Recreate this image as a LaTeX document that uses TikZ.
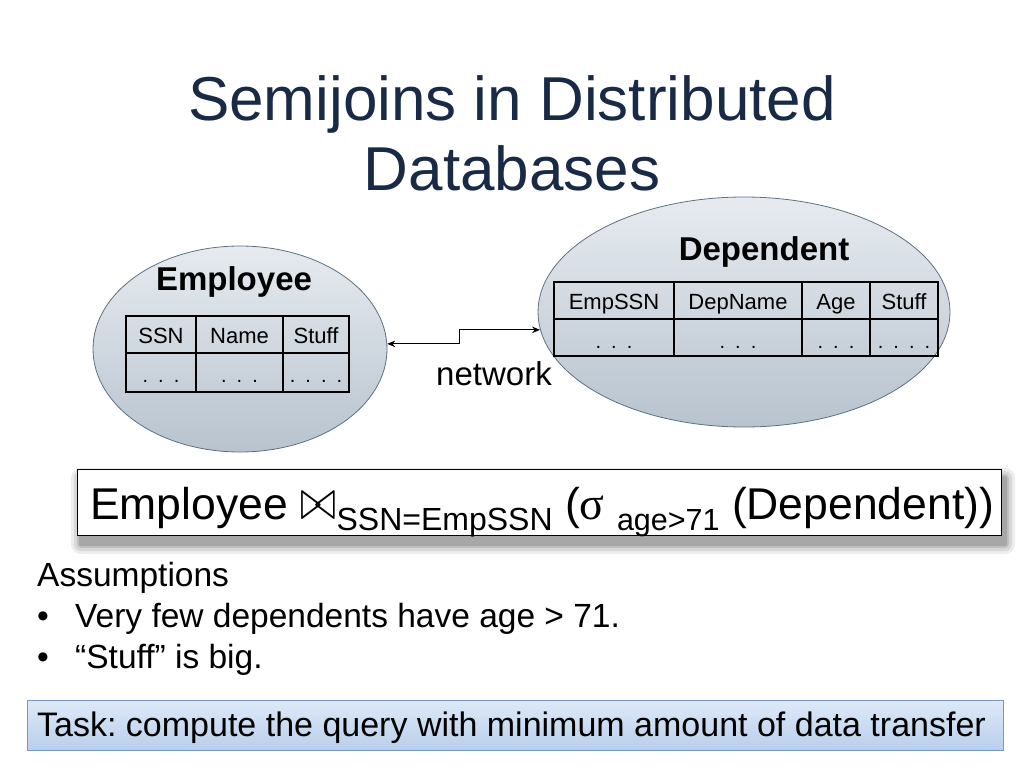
\documentclass[tikz,border=0pt]{standalone}
\usepackage{fix-cm}
\usepackage{fontspec}
\setmainfont{Liberation Sans}
\newfontfamily\grfont{Liberation Serif}
\usetikzlibrary{shapes.geometric,arrows.meta}
\definecolor{titlec}{RGB}{24,42,70}
\definecolor{elltop}{RGB}{230,235,240}
\definecolor{ellbot}{RGB}{184,195,206}
\definecolor{elldraw}{RGB}{95,112,128}
\definecolor{tasktop}{RGB}{222,233,247}
\definecolor{taskbot}{RGB}{184,207,236}
\definecolor{taskdraw}{RGB}{120,152,196}
\newcommand{\fsz}[1]{\fontsize{#1}{#1}\selectfont}
\frenchspacing
\begin{document}
\begin{tikzpicture}[x=1pt,y=-1pt,
  txt/.style={inner sep=0pt, anchor=base},
  cell/.style={inner sep=0pt, anchor=base, font=\fsz{22}},
  dots/.style={inner sep=0pt, anchor=base, font=\fsz{20}},
  db/.style={ellipse, draw=elldraw, line width=0.8pt, top color=elltop, bottom color=ellbot},
  outer/.style={line width=2.6pt},
  inner/.style={line width=1.3pt},
  link/.style={line width=1.2pt, {Stealth[length=8pt,width=6.5pt]}-{Stealth[length=8pt,width=6.5pt]}}
]
\useasboundingbox (0,0) rectangle (1024,768);

% title
\node[txt, font=\fsz{62}, text=titlec] (t1) at (512,120) {Semijoins in Distributed};
\node[txt, font=\fsz{62}, text=titlec] (t2) at (512,190) {Databases};

% ellipses
\node[db, minimum width=294pt, minimum height=206pt] (emp) at (240,349) {};
\node[db, minimum width=412pt, minimum height=230pt] (dep) at (744,312) {};

\node[txt, font=\bfseries\fsz{33}] (empl) at (234,290) {Employee};
\node[txt, font=\bfseries\fsz{33}] (depl) at (764,260) {Dependent};

% Employee table
\draw[inner] (126,353) -- (349,353);
\draw[inner] (196,316) -- (196,392);
\draw[inner] (283,316) -- (283,392);
\draw[outer] (126,316) rectangle (349,392);
\node[cell] (e1) at (161,343) {SSN};
\node[cell] (e2) at (239.5,343) {Name};
\node[cell] (e3) at (316,343) {Stuff};
\node[dots] (e4) at (161,382) {.\,\,\,.\,\,\,.};
\node[dots] (e5) at (239.5,382) {.\,\,\,.\,\,\,.};
\node[dots] (e6) at (316,382) {.\,\,\,.\,\,\,.\,\,\,.};

% Dependent table
\draw[inner] (554,319) -- (938,319);
\draw[inner] (674,282) -- (674,356);
\draw[inner] (802,282) -- (802,356);
\draw[inner] (870,282) -- (870,356);
\draw[outer] (554,282) rectangle (938,356);
\node[cell] (d1) at (614,309) {EmpSSN};
\node[cell] (d2) at (738,309) {DepName};
\node[cell] (d3) at (836,309) {Age};
\node[cell] (d4) at (904,309) {Stuff};
\node[dots] (d5) at (614,348) {.\,\,\,.\,\,\,.};
\node[dots] (d6) at (738,348) {.\,\,\,.\,\,\,.};
\node[dots] (d7) at (836,348) {.\,\,\,.\,\,\,.};
\node[dots] (d8) at (904,348) {.\,\,\,.\,\,\,.\,\,\,.};

% network link
\draw[link] (emp.2) -- ++(72,0) |- (dep.185);
\node[txt, font=\fsz{33}] (net) at (494,385) {network};

% formula box with shadow
\foreach \i/\o in {10/0.07,7/0.09,4/0.11,2/0.13}{
  \fill[black, opacity=\o, rounded corners=\i pt] (77+4-\i,469+9-\i) rectangle (1001+4+\i,535+9+\i);
}
\node[draw=black, line width=0.8pt, fill=white, minimum width=924pt, minimum height=66pt, inner sep=0pt] (fbox) at (539,502) {};
\node[txt, anchor=base west, font=\fsz{44.5}] (form) at (90,519)
  {Employee \scalebox{1.0}[1.3]{$\bowtie$}\raisebox{-11pt}{\fsz{32}SSN=EmpSSN} ({\grfont\fsz{46}σ} \raisebox{-11pt}{\fsz{30.5}age>71} (Dependent))};

% assumptions
\node[txt, anchor=base west, font=\fsz{33.5}] (as) at (37,586) {Assumptions};
\node[txt, anchor=base west, font=\fsz{33.5}] (b1) at (37,627) {•};
\node[txt, anchor=base west, font=\fsz{33.5}] (a1) at (75,627) {Very few dependents have age > 71.};
\node[txt, anchor=base west, font=\fsz{33.5}] (b2) at (37,668) {•};
\node[txt, anchor=base west, font=\fsz{33.5}] (a2) at (75,668) {“Stuff” is big.};

% task box
\node[draw=taskdraw, line width=0.8pt, top color=tasktop, bottom color=taskbot, minimum width=976pt, minimum height=50pt, inner sep=0pt] (task) at (515,725) {};
\node[txt, anchor=base west, font=\fsz{34}] (tt) at (37,736) {Task: compute the query with minimum amount of data transfer};
\end{tikzpicture}
\end{document}
